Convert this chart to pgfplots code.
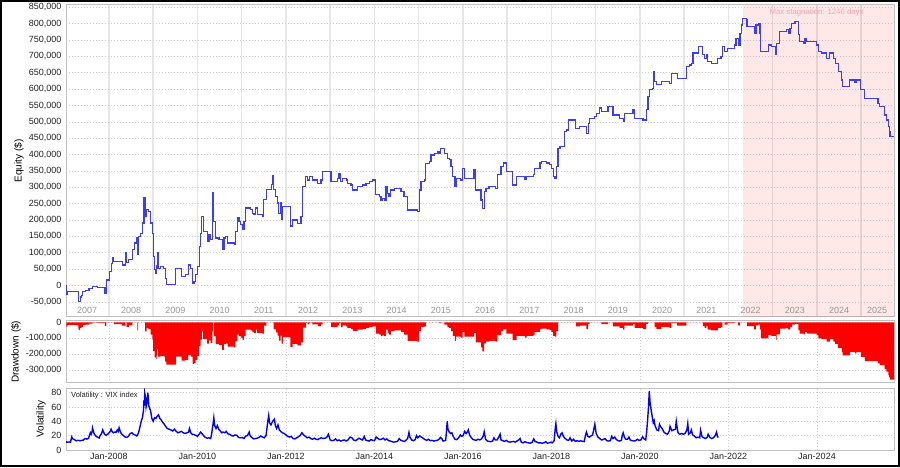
\documentclass[border=0pt]{standalone}
\usepackage{fontspec}
\setmainfont{Liberation Sans}
\usepackage{pgfplots}
\pgfplotsset{compat=1.18}

\definecolor{eqblue}{RGB}{60,60,255}
\definecolor{vixblue}{RGB}{0,0,255}
\definecolor{ddred}{RGB}{255,0,0}
\definecolor{framegray}{RGB}{192,192,192}
\definecolor{gridgray}{RGB}{205,205,205}
\definecolor{yeargray}{RGB}{230,230,230}
\definecolor{yeartext}{RGB}{150,150,150}
\definecolor{stagtext}{RGB}{245,165,165}
\definecolor{ticktext}{RGB}{35,35,35}

\pgfplotsset{
  panel/.style={
    scale only axis, width=828pt,
    xmin=2007.03, xmax=2025.74,
    axis line style={framegray, line width=1pt},
    major tick length=0pt,
    tick label style={font=\fontsize{9}{10}\selectfont, text=ticktext},
    yticklabel style={xshift=-1pt},
    label style={font=\fontsize{10}{12}\selectfont},
    /pgf/number format/assume math mode=true,
    /pgf/number format/fixed,
    /pgf/number format/precision=0,
    /pgf/number format/1000 sep={,},
    scaled y ticks=false,
    ymajorgrids, xmajorgrids,
    major grid style={gridgray, line width=0.6pt, dash pattern=on 1.2pt off 1.8pt},
  },
}

\begin{document}
\begin{tikzpicture}
\useasboundingbox (0,0) rectangle (900pt,467pt);

% equity
\begin{axis}[panel, at={(66pt,150.3pt)}, height=311.7pt,
  ymin=-95300, ymax=857000,
  ytick={-50000,0,50000,100000,150000,200000,250000,300000,350000,400000,450000,500000,550000,600000,650000,700000,750000,800000,850000},
  xtick={2008,2009,...,2025}, xticklabels={},
  major x grid style={yeargray, solid, line width=1.6pt},
  ylabel={Equity (\$)},
  ylabel style={at={(axis description cs:-0.0568,0.5)}, anchor=center}]
\addplot[draw=none, fill=red, fill opacity=0.09, forget plot] coordinates
  {(2022.32,-95300) (2022.32,857000) (2025.74,857000) (2025.74,-95300)} -- cycle;
\addplot[eqblue, line width=1.25pt, const plot, mark=none] table {
t v
2007.02 0
2007.04 -28000
2007.06 -18000
2007.31 -40000
2007.32 -49000
2007.35 -35000
2007.38 -30000
2007.41 -18000
2007.47 -15000
2007.55 -8000
2007.63 -3000
2007.74 -6000
2007.91 -23000
2007.94 17000
2008.02 43000
2008.05 68000
2008.08 84000
2008.11 73000
2008.30 63000
2008.38 99000
2008.40 70000
2008.45 79000
2008.53 109000
2008.57 130000
2008.62 145000
2008.64 94000
2008.66 150000
2008.72 160000
2008.76 191000
2008.79 269000
2008.82 211000
2008.85 232000
2008.89 227000
2008.94 191000
2008.98 160000
2009.00 89000
2009.03 48000
2009.06 38000
2009.08 60000
2009.09 99000
2009.11 53000
2009.17 58000
2009.24 53000
2009.27 22000
2009.30 2000
2009.51 53000
2009.64 28000
2009.73 33000
2009.79 63000
2009.85 53000
2009.89 7000
2009.92 12000
2009.96 33000
2010.00 58000
2010.04 119000
2010.07 160000
2010.10 211000
2010.13 165000
2010.22 135000
2010.26 155000
2010.30 140000
2010.34 211000
2010.35 283000
2010.37 196000
2010.41 145000
2010.49 140000
2010.56 109000
2010.60 145000
2010.64 150000
2010.68 130000
2010.83 125000
2010.86 165000
2010.90 206000
2010.94 196000
2010.98 186000
2011.02 170000
2011.05 196000
2011.09 237000
2011.20 232000
2011.24 221000
2011.28 216000
2011.32 237000
2011.35 216000
2011.47 211000
2011.50 262000
2011.56 293000
2011.67 308000
2011.69 336000
2011.72 293000
2011.77 272000
2011.81 252000
2011.84 221000
2011.88 252000
2011.90 201000
2011.93 242000
2012.10 182000
2012.15 200000
2012.26 190000
2012.34 210000
2012.38 302000
2012.45 333000
2012.49 322000
2012.53 333000
2012.60 322000
2012.72 312000
2012.79 322000
2012.83 348000
2013.02 317000
2013.17 328000
2013.20 343000
2013.24 317000
2013.28 328000
2013.36 322000
2013.39 312000
2013.47 307000
2013.51 292000
2013.62 302000
2013.73 307000
2013.81 312000
2013.88 317000
2013.96 322000
2014.03 277000
2014.11 271000
2014.15 261000
2014.18 266000
2014.22 261000
2014.26 302000
2014.30 282000
2014.33 271000
2014.37 292000
2014.45 297000
2014.60 287000
2014.67 271000
2014.75 231000
2014.97 226000
2015.01 292000
2015.05 317000
2015.13 322000
2015.16 373000
2015.24 378000
2015.28 399000
2015.35 404000
2015.43 409000
2015.46 404000
2015.50 419000
2015.58 404000
2015.65 389000
2015.69 384000
2015.73 363000
2015.77 333000
2015.82 302000
2015.84 328000
2015.95 322000
2015.99 358000
2016.03 328000
2016.25 353000
2016.29 292000
2016.41 261000
2016.44 236000
2016.48 287000
2016.52 297000
2016.59 302000
2016.74 297000
2016.78 338000
2016.86 363000
2016.91 374000
2016.98 348000
2017.12 307000
2017.21 333000
2017.40 323000
2017.44 333000
2017.59 338000
2017.62 358000
2017.74 374000
2017.77 379000
2017.89 374000
2017.96 369000
2018.00 358000
2018.04 333000
2018.08 328000
2018.11 363000
2018.15 419000
2018.19 424000
2018.30 470000
2018.34 475000
2018.39 506000
2018.55 480000
2018.64 485000
2018.79 465000
2018.83 496000
2018.86 511000
2018.98 516000
2019.02 526000
2019.09 542000
2019.13 531000
2019.28 547000
2019.39 521000
2019.54 511000
2019.62 501000
2019.65 526000
2019.84 537000
2019.88 511000
2020.07 506000
2020.14 537000
2020.18 577000
2020.22 598000
2020.29 603000
2020.31 654000
2020.33 623000
2020.37 613000
2020.48 623000
2020.67 618000
2020.71 648000
2020.84 633000
2021.05 669000
2021.12 674000
2021.16 679000
2021.20 710000
2021.33 730000
2021.42 705000
2021.46 694000
2021.50 705000
2021.53 684000
2021.61 679000
2021.76 694000
2021.83 699000
2021.86 730000
2021.91 715000
2021.98 725000
2022.14 735000
2022.17 755000
2022.22 735000
2022.26 771000
2022.30 796000
2022.32 816000
2022.41 813000
2022.42 791000
2022.58 771000
2022.62 796000
2022.67 801000
2022.71 771000
2022.73 715000
2022.90 735000
2022.97 730000
2023.07 705000
2023.09 740000
2023.16 776000
2023.31 781000
2023.35 771000
2023.39 786000
2023.43 801000
2023.50 806000
2023.58 766000
2023.61 745000
2023.69 740000
2023.73 755000
2023.77 745000
2023.99 735000
2024.03 715000
2024.10 710000
2024.22 694000
2024.29 710000
2024.37 694000
2024.41 679000
2024.48 654000
2024.56 628000
2024.58 608000
2024.74 628000
2024.86 620000
2024.89 628000
2024.99 598000
2025.08 572000
2025.38 557000
2025.42 547000
2025.53 521000
2025.57 506000
2025.61 486000
2025.63 470000
2025.65 455000
2025.73 455000
};
\node[text=yeartext, font=\fontsize{9}{10}\selectfont] at (axis cs:2007.51,-75000) {2007};
\pgfplotsinvokeforeach{2008,2009,...,2024}{
  \node[text=yeartext, font=\fontsize{9}{10}\selectfont] at (axis cs:#1.5,-75000) {#1};
}
\node[text=yeartext, font=\fontsize{9}{10}\selectfont] at (axis cs:2025.36,-75000) {2025};
\node[text=stagtext, font=\fontsize{7.8}{9}\selectfont] at (axis cs:2023.99,834700) {Max stagnation: 1246 days};
\end{axis}

% drawdown
\begin{axis}[panel, at={(66pt,84.3pt)}, height=61.7pt,
  ymin=-380000, ymax=8000,
  ytick={-300000,-200000,-100000,0},
  xtick={2008,2010,...,2024}, xticklabels={},
  ylabel={Drawdown (\$)},
  ylabel style={at={(axis description cs:-0.0604,0.5)}, anchor=center}]
\addplot[draw=none, fill=ddred, const plot, mark=none] table {
t d
2007.02 0
2007.04 -28000
2007.06 -18000
2007.31 -40000
2007.32 -49000
2007.35 -35000
2007.38 -30000
2007.41 -18000
2007.47 -15000
2007.55 -8000
2007.63 -3000
2007.74 -6000
2007.91 -23000
2007.94 0
2008.11 -11000
2008.30 -21000
2008.38 0
2008.40 -29000
2008.45 -20000
2008.53 0
2008.64 -51000
2008.66 0
2008.82 -58000
2008.85 -37000
2008.89 -42000
2008.94 -78000
2008.98 -109000
2009.00 -180000
2009.03 -221000
2009.06 -231000
2009.08 -209000
2009.09 -170000
2009.11 -216000
2009.17 -211000
2009.24 -216000
2009.27 -247000
2009.30 -267000
2009.51 -216000
2009.64 -241000
2009.73 -236000
2009.79 -206000
2009.85 -216000
2009.89 -262000
2009.92 -257000
2009.96 -236000
2010.00 -211000
2010.04 -150000
2010.07 -109000
2010.10 -58000
2010.13 -104000
2010.22 -134000
2010.26 -114000
2010.30 -129000
2010.34 -58000
2010.35 0
2010.37 -87000
2010.41 -138000
2010.49 -143000
2010.56 -174000
2010.60 -138000
2010.64 -133000
2010.68 -153000
2010.83 -158000
2010.86 -118000
2010.90 -77000
2010.94 -87000
2010.98 -97000
2011.02 -113000
2011.05 -87000
2011.09 -46000
2011.20 -51000
2011.24 -62000
2011.28 -67000
2011.32 -46000
2011.35 -67000
2011.47 -72000
2011.50 -21000
2011.56 0
2011.72 -43000
2011.77 -64000
2011.81 -84000
2011.84 -115000
2011.88 -84000
2011.90 -135000
2011.93 -94000
2012.10 -154000
2012.15 -136000
2012.26 -146000
2012.34 -126000
2012.38 -34000
2012.45 -3000
2012.49 -14000
2012.53 -3000
2012.60 -14000
2012.72 -24000
2012.79 -14000
2012.83 0
2013.02 -31000
2013.17 -20000
2013.20 -5000
2013.24 -31000
2013.28 -20000
2013.36 -26000
2013.39 -36000
2013.47 -41000
2013.51 -56000
2013.62 -46000
2013.73 -41000
2013.81 -36000
2013.88 -31000
2013.96 -26000
2014.03 -71000
2014.11 -77000
2014.15 -87000
2014.18 -82000
2014.22 -87000
2014.26 -46000
2014.30 -66000
2014.33 -77000
2014.37 -56000
2014.45 -51000
2014.60 -61000
2014.67 -77000
2014.75 -117000
2014.97 -122000
2015.01 -56000
2015.05 -31000
2015.13 -26000
2015.16 0
2015.46 -5000
2015.50 0
2015.58 -15000
2015.65 -30000
2015.69 -35000
2015.73 -56000
2015.77 -86000
2015.82 -117000
2015.84 -91000
2015.95 -97000
2015.99 -61000
2016.03 -91000
2016.25 -66000
2016.29 -127000
2016.41 -158000
2016.44 -183000
2016.48 -132000
2016.52 -122000
2016.59 -117000
2016.74 -122000
2016.78 -81000
2016.86 -56000
2016.91 -45000
2016.98 -71000
2017.12 -112000
2017.21 -86000
2017.40 -96000
2017.44 -86000
2017.59 -81000
2017.62 -61000
2017.74 -45000
2017.77 -40000
2017.89 -45000
2017.96 -50000
2018.00 -61000
2018.04 -86000
2018.08 -91000
2018.11 -56000
2018.15 0
2018.55 -26000
2018.64 -21000
2018.79 -41000
2018.83 -10000
2018.86 0
2019.13 -11000
2019.28 0
2019.39 -26000
2019.54 -36000
2019.62 -46000
2019.65 -21000
2019.84 -10000
2019.88 -36000
2020.07 -41000
2020.14 -10000
2020.18 0
2020.33 -31000
2020.37 -41000
2020.48 -31000
2020.67 -36000
2020.71 -6000
2020.84 -21000
2021.05 0
2021.42 -25000
2021.46 -36000
2021.50 -25000
2021.53 -46000
2021.61 -51000
2021.76 -36000
2021.83 -31000
2021.86 0
2021.91 -15000
2021.98 -5000
2022.14 0
2022.22 -20000
2022.26 0
2022.41 -3000
2022.42 -25000
2022.58 -45000
2022.62 -20000
2022.67 -15000
2022.71 -45000
2022.73 -101000
2022.90 -81000
2022.97 -86000
2023.07 -111000
2023.09 -76000
2023.16 -40000
2023.31 -35000
2023.35 -45000
2023.39 -30000
2023.43 -15000
2023.50 -10000
2023.58 -50000
2023.61 -71000
2023.69 -76000
2023.73 -61000
2023.77 -71000
2023.99 -81000
2024.03 -101000
2024.10 -106000
2024.22 -122000
2024.29 -106000
2024.37 -122000
2024.41 -137000
2024.48 -162000
2024.56 -188000
2024.58 -208000
2024.74 -188000
2024.86 -196000
2024.89 -188000
2024.99 -218000
2025.08 -244000
2025.38 -259000
2025.42 -269000
2025.53 -295000
2025.57 -310000
2025.61 -330000
2025.63 -346000
2025.65 -361000
2025.73 -361000
2025.74 0
} -- cycle;
\end{axis}

% volatility
\begin{axis}[panel, at={(66pt,17pt)}, height=61.7pt,
  ymin=0, ymax=86, ytick={0,20,40,60,80},
  xtick={2008,2010,...,2024},
  xticklabels={Jan-2008,Jan-2010,Jan-2012,Jan-2014,Jan-2016,Jan-2018,Jan-2020,Jan-2022,Jan-2024},
  ylabel={Volatility},
  ylabel style={at={(axis description cs:-0.0302,0.5)}, anchor=center}]
\addplot[vixblue, line width=1.4pt, mark=none] table {
t v
2007.03 11.6
2007.06 10.8
2007.10 11.2
2007.13 10.9
2007.16 18.3
2007.18 15.7
2007.22 14.5
2007.26 12.8
2007.30 13.5
2007.34 13.0
2007.38 13.3
2007.42 13.8
2007.46 16.0
2007.50 15.2
2007.54 16.4
2007.58 24.2
2007.60 22.0
2007.62 26.0
2007.63 30.8
2007.66 23.5
2007.70 19.5
2007.74 18.0
2007.78 16.8
2007.80 20.0
2007.83 22.5
2007.86 28.0
2007.88 25.0
2007.90 22.0
2007.94 20.5
2007.98 22.5
2008.02 25.0
2008.05 29.0
2008.07 26.0
2008.10 24.0
2008.13 25.0
2008.16 24.5
2008.19 28.0
2008.21 26.0
2008.23 31.0
2008.26 25.0
2008.29 22.0
2008.33 20.0
2008.37 18.0
2008.40 17.5
2008.44 19.0
2008.48 23.0
2008.52 24.0
2008.55 22.0
2008.59 21.0
2008.63 19.5
2008.67 24.0
2008.70 32.0
2008.73 40.0
2008.76 46.0
2008.78 55.0
2008.79 69.0
2008.80 62.0
2008.81 79.0
2008.83 72.0
2008.84 60.0
2008.86 66.0
2008.88 80.0
2008.90 62.0
2008.92 58.0
2008.94 55.0
2008.97 44.0
2009.00 40.0
2009.03 45.0
2009.06 44.0
2009.09 47.0
2009.12 49.0
2009.15 44.0
2009.18 42.0
2009.21 39.0
2009.25 36.0
2009.28 33.0
2009.32 30.0
2009.36 29.0
2009.40 28.0
2009.44 26.5
2009.48 29.0
2009.52 26.0
2009.56 24.0
2009.60 25.0
2009.64 26.0
2009.68 24.0
2009.72 23.0
2009.76 24.0
2009.80 25.0
2009.82 30.0
2009.85 24.0
2009.88 22.0
2009.92 21.5
2009.96 20.5
2010.00 19.0
2010.04 22.0
2010.07 25.0
2010.10 23.0
2010.14 20.0
2010.18 17.5
2010.22 16.5
2010.26 17.0
2010.30 16.0
2010.32 22.0
2010.35 35.0
2010.37 45.0
2010.39 34.0
2010.42 30.0
2010.45 34.0
2010.48 29.0
2010.51 27.0
2010.55 24.0
2010.58 25.0
2010.62 24.0
2010.65 26.0
2010.69 22.5
2010.73 22.0
2010.77 20.0
2010.81 19.5
2010.85 21.0
2010.89 20.5
2010.93 17.5
2010.97 17.0
2011.01 17.5
2011.05 16.0
2011.09 19.5
2011.13 20.0
2011.17 25.0
2011.19 20.0
2011.23 17.5
2011.27 15.5
2011.31 16.0
2011.35 16.5
2011.39 17.5
2011.43 19.5
2011.47 18.0
2011.51 17.0
2011.55 20.0
2011.59 40.0
2011.61 48.0
2011.63 38.0
2011.66 35.0
2011.70 40.0
2011.74 43.0
2011.76 34.0
2011.79 30.0
2011.82 35.0
2011.85 28.0
2011.88 26.0
2011.92 24.0
2011.96 23.0
2012.00 21.0
2012.04 19.0
2012.08 18.0
2012.12 19.0
2012.16 16.0
2012.20 15.5
2012.24 17.0
2012.28 18.5
2012.32 20.0
2012.36 24.0
2012.40 21.0
2012.44 19.0
2012.48 17.0
2012.52 18.0
2012.56 16.0
2012.60 15.0
2012.64 16.5
2012.68 15.0
2012.72 14.5
2012.76 16.0
2012.80 17.0
2012.84 16.0
2012.88 16.5
2012.92 17.5
2012.96 22.0
2013.00 14.0
2013.04 13.0
2013.08 13.5
2013.12 15.5
2013.16 13.0
2013.20 14.0
2013.24 12.5
2013.28 13.5
2013.32 14.0
2013.36 12.5
2013.40 14.0
2013.45 18.0
2013.49 17.0
2013.53 14.0
2013.57 13.0
2013.61 14.5
2013.65 16.5
2013.69 15.0
2013.73 14.0
2013.77 19.0
2013.80 14.0
2013.84 13.0
2013.88 12.5
2013.92 14.5
2013.96 13.5
2014.00 13.0
2014.04 18.0
2014.08 16.0
2014.12 14.5
2014.16 15.0
2014.20 16.5
2014.24 14.0
2014.28 15.5
2014.32 13.0
2014.36 12.5
2014.40 11.5
2014.44 11.0
2014.48 11.5
2014.52 12.0
2014.56 16.0
2014.60 13.5
2014.64 12.5
2014.68 12.0
2014.72 14.0
2014.75 16.0
2014.78 24.5
2014.80 18.0
2014.84 14.0
2014.88 13.0
2014.92 14.5
2014.95 20.0
2014.98 17.0
2015.02 19.5
2015.06 18.0
2015.10 16.5
2015.14 14.5
2015.18 13.5
2015.22 15.0
2015.26 13.0
2015.30 13.5
2015.34 12.5
2015.38 13.0
2015.42 13.5
2015.46 15.0
2015.49 17.5
2015.52 16.0
2015.55 12.5
2015.58 13.0
2015.61 13.5
2015.63 28.0
2015.645 40.0
2015.66 29.0
2015.69 25.0
2015.72 23.0
2015.75 24.0
2015.78 19.0
2015.82 15.0
2015.86 14.5
2015.90 17.0
2015.94 21.0
2015.97 19.0
2016.00 20.0
2016.04 26.0
2016.07 23.0
2016.10 25.0
2016.12 28.0
2016.15 21.0
2016.19 17.0
2016.22 15.0
2016.26 14.0
2016.30 13.5
2016.34 15.0
2016.38 14.0
2016.42 15.5
2016.46 20.0
2016.48 25.5
2016.51 15.0
2016.55 12.5
2016.59 12.0
2016.63 11.5
2016.67 12.5
2016.70 17.0
2016.73 14.0
2016.77 14.0
2016.81 18.0
2016.84 22.0
2016.86 14.0
2016.90 13.0
2016.94 12.0
2016.98 13.5
2017.02 11.5
2017.06 11.0
2017.10 11.5
2017.14 12.0
2017.18 11.0
2017.22 12.5
2017.27 14.5
2017.29 16.0
2017.32 10.8
2017.36 10.0
2017.40 11.5
2017.44 10.5
2017.48 10.0
2017.52 9.5
2017.56 10.5
2017.60 15.5
2017.63 12.0
2017.67 11.0
2017.71 10.0
2017.75 10.0
2017.79 9.5
2017.83 10.0
2017.87 11.5
2017.91 9.5
2017.95 10.0
2017.99 11.0
2018.02 10.0
2018.06 13.0
2018.09 33.0
2018.10 37.0
2018.12 25.0
2018.15 19.0
2018.18 17.0
2018.21 22.0
2018.24 24.0
2018.27 19.0
2018.31 16.0
2018.35 14.0
2018.39 13.5
2018.42 17.0
2018.46 12.5
2018.50 15.0
2018.54 12.0
2018.58 13.0
2018.62 12.0
2018.66 13.0
2018.70 12.0
2018.74 11.8
2018.77 21.0
2018.79 25.0
2018.82 19.0
2018.86 18.0
2018.90 20.0
2018.93 21.0
2018.96 30.0
2018.98 36.0
2019.01 23.0
2019.05 18.0
2019.09 16.0
2019.13 14.0
2019.17 14.5
2019.21 16.0
2019.25 13.0
2019.29 12.5
2019.33 13.0
2019.36 19.0
2019.39 16.0
2019.43 18.0
2019.46 15.0
2019.50 13.0
2019.54 12.5
2019.58 13.5
2019.60 20.5
2019.62 24.0
2019.65 17.5
2019.68 15.0
2019.72 15.0
2019.75 18.0
2019.78 14.0
2019.82 13.0
2019.86 12.5
2019.90 13.0
2019.94 15.0
2019.98 13.5
2020.02 14.0
2020.06 18.5
2020.10 15.0
2020.13 14.0
2020.15 25.0
2020.17 40.0
2020.19 57.0
2020.21 82.0
2020.23 65.0
2020.26 53.0
2020.28 45.0
2020.30 38.0
2020.32 41.0
2020.34 34.0
2020.38 28.0
2020.42 27.0
2020.44 36.0
2020.46 33.0
2020.50 30.0
2020.54 25.0
2020.58 23.0
2020.62 22.0
2020.66 26.0
2020.68 33.0
2020.72 27.0
2020.76 28.0
2020.80 29.0
2020.82 40.0
2020.84 31.0
2020.86 24.0
2020.90 22.0
2020.94 23.0
2020.98 22.0
2021.02 23.0
2021.06 28.0
2021.08 37.0
2021.10 22.0
2021.14 24.0
2021.16 28.0
2021.19 21.0
2021.23 19.5
2021.27 17.0
2021.31 18.0
2021.35 17.0
2021.37 27.5
2021.40 19.0
2021.44 17.0
2021.48 16.0
2021.52 18.0
2021.54 22.0
2021.58 17.5
2021.62 16.0
2021.66 17.0
2021.70 20.0
2021.73 25.0
2021.75 19.0
2021.77 17.5
};
\node[anchor=west, inner sep=0pt, text=ticktext, font=\fontsize{7.5}{9}\selectfont]
  at (axis description cs:0.006,0.875) {Volatility : VIX index};
\end{axis}

\draw[black, line width=2pt] (1pt,1pt) rectangle (899pt,466pt);
\end{tikzpicture}
\end{document}
